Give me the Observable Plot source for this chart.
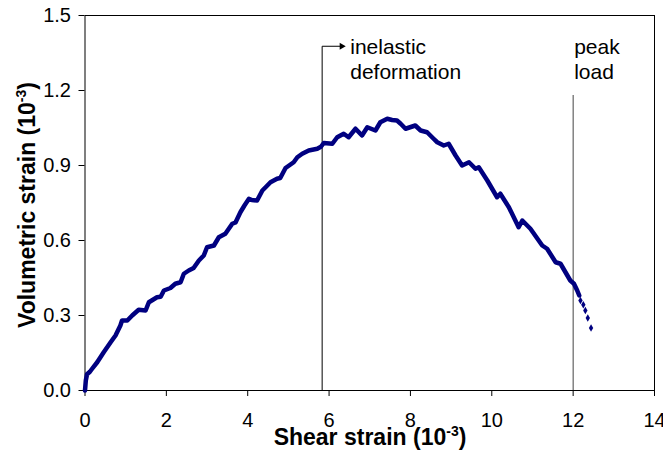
<!DOCTYPE html>
<html>
<head>
<meta charset="utf-8">
<script src="https://cdn.jsdelivr.net/npm/d3@7"></script>
<script src="https://cdn.jsdelivr.net/npm/@observablehq/plot@0.6"></script>
<style>
  html, body { margin: 0; padding: 0; background: #fff; }
  svg { display: block; }
</style>
</head>
<body>
<div id="chart"></div>
<script>
// Shear strain (10^-3) and volumetric strain (10^-3), dense recorded part
const shearStrain = [0, 0.02, 0.05, 0.12, 0.18, 0.3, 0.46, 0.63, 0.75, 0.87, 0.91, 1.04, 1.16, 1.32, 1.49, 1.57, 1.77, 1.86, 1.94, 2.10, 2.22, 2.35, 2.43, 2.55, 2.67, 2.80, 2.92, 3.0, 3.17, 3.29, 3.45, 3.62, 3.70, 3.82, 3.92, 4.03, 4.10, 4.23, 4.36, 4.44, 4.56, 4.72, 4.80, 4.93, 5.13, 5.22, 5.34, 5.50, 5.71, 5.80, 5.87, 6.08, 6.20, 6.36, 6.48, 6.65, 6.81, 6.94, 7.14, 7.26, 7.43, 7.55, 7.67, 7.76, 7.88, 8.12, 8.25, 8.41, 8.57, 8.66, 8.82, 8.94, 9.11, 9.27, 9.44, 9.60, 9.68, 9.89, 10.13, 10.21, 10.42, 10.66, 10.75, 10.95, 11.24, 11.36, 11.57, 11.69, 11.93, 12.02, 12.10, 12.15];
const volStrain   = [0, 0.04, 0.065, 0.075, 0.088, 0.113, 0.153, 0.193, 0.22, 0.26, 0.28, 0.28, 0.30, 0.323, 0.32, 0.353, 0.373, 0.375, 0.40, 0.41, 0.427, 0.433, 0.467, 0.48, 0.49, 0.52, 0.54, 0.573, 0.58, 0.613, 0.627, 0.667, 0.672, 0.713, 0.74, 0.767, 0.762, 0.76, 0.80, 0.813, 0.833, 0.847, 0.85, 0.89, 0.913, 0.933, 0.947, 0.96, 0.967, 0.975, 0.99, 0.987, 1.013, 1.027, 1.013, 1.047, 1.02, 1.053, 1.04, 1.073, 1.087, 1.082, 1.08, 1.067, 1.047, 1.06, 1.04, 1.033, 1.007, 0.993, 0.98, 0.987, 0.94, 0.90, 0.913, 0.887, 0.893, 0.84, 0.773, 0.787, 0.733, 0.653, 0.68, 0.647, 0.58, 0.567, 0.513, 0.507, 0.44, 0.427, 0.40, 0.38];
// sparse points after peak load
const tailShear = [12.18, 12.25, 12.30, 12.36, 12.44];
const tailVol   = [0.36, 0.343, 0.32, 0.29, 0.25];

const xTicks = [0, 2, 4, 6, 8, 10, 12, 14];
const yTicks = [0, 0.3, 0.6, 0.9, 1.2, 1.5];

// annotations
const inelasticX = 5.83;
const inelasticTop = 1.377;
const inelasticArrowEnd = 6.27;
const inelasticTip = 6.31;
const inelasticTextX = 6.52;
const inelasticLabel = "inelastic\ndeformation";
const peakX = 12;
const peakTop = 1.18;
const peakLabel = "peak\nload";
const labelBaseline = 1.248;

const curve = shearStrain.map((x, i) => ({x, y: volStrain[i]}));
const tail = tailShear.map((x, i) => ({x, y: tailVol[i]}));
const arrowPath = [
  {x: inelasticX, y: 0},
  {x: inelasticX, y: inelasticTop},
  {x: inelasticArrowEnd, y: inelasticTop}
];

const navy = "#000080";
const font = "'Liberation Sans', Arial, sans-serif";

const chart = Plot.plot({
  width: 663,
  height: 455,
  marginLeft: 84.5,
  marginRight: 9,
  marginTop: 15,
  marginBottom: 65,
  style: {fontFamily: font, fontSize: "20px", color: "#000", background: "#fff", overflow: "visible"},
  x: {domain: [0, 14]},
  y: {domain: [0, 1.5]},
  marks: [
    Plot.frame({stroke: "#000", strokeWidth: 1}),
    Plot.axisX({ticks: xTicks, tickSize: 6, tickPadding: 16, label: null, fontSize: 20}),
    Plot.axisY({ticks: yTicks, tickSize: 6, tickPadding: 8, tickFormat: d3.format(".1f"), label: null, fontSize: 20}),
    Plot.line(arrowPath, {x: "x", y: "y", stroke: "#000", strokeWidth: 1}),
    Plot.dot([{x: inelasticTip, y: inelasticTop}], {x: "x", y: "y", symbol: "triangle", r: 2.6, rotate: 90, fill: "#000", stroke: "none"}),
    Plot.ruleX([peakX], {y1: 0, y2: peakTop, stroke: "#444", strokeWidth: 1}),
    Plot.line(curve, {x: "x", y: "y", stroke: navy, strokeWidth: 4.5, strokeLinejoin: "round", strokeLinecap: "round"}),
    Plot.dot(tail, {x: "x", y: "y", symbol: "diamond", r: 2.3, fill: navy, stroke: "none"}),
    Plot.text([inelasticLabel], {x: inelasticTextX, y: labelBaseline, text: d => d, textAnchor: "start", lineAnchor: "bottom", lineHeight: 1.17, fontSize: 21, fill: "#000"}),
    Plot.text([peakLabel], {x: peakX, y: labelBaseline, text: d => d, textAnchor: "start", dx: 1, lineAnchor: "bottom", lineHeight: 1.17, fontSize: 21, fill: "#000"})
  ]
});

const svg = d3.select(chart);
// axis titles with superscript exponent
const xt = svg.append("text")
  .attr("x", 370).attr("y", 445)
  .attr("text-anchor", "middle")
  .attr("font-family", font).attr("font-weight", "bold").attr("font-size", 23).attr("fill", "#000");
xt.append("tspan").text("Shear strain (10");
xt.append("tspan").attr("font-size", 14).attr("dy", -9).text("-3");
xt.append("tspan").attr("dy", 9).text(")");

const yt = svg.append("text")
  .attr("transform", "translate(35,205) rotate(-90)")
  .attr("text-anchor", "middle")
  .attr("font-family", font).attr("font-weight", "bold").attr("font-size", 23).attr("fill", "#000");
yt.append("tspan").text("Volumetric strain (10");
yt.append("tspan").attr("font-size", 14).attr("dy", -9).text("-3");
yt.append("tspan").attr("dy", 9).text(")");

document.getElementById("chart").appendChild(chart);
</script>
</body>
</html>
